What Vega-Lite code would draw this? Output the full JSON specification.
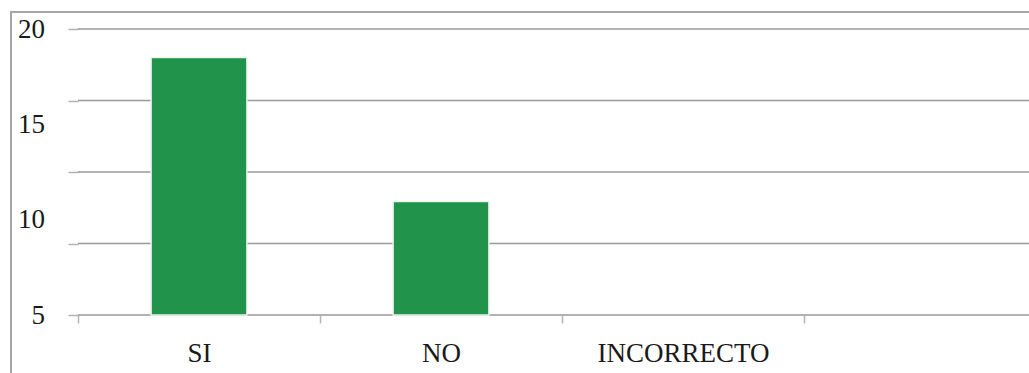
{
  "$schema": "https://vega.github.io/schema/vega-lite/v6.json",
  "width": 1020,
  "height": 363,
  "autosize": {"type": "none"},
  "padding": {"left": 11, "top": 12, "right": 0, "bottom": 0},
  "background": "white",
  "config": {"view": {"stroke": "#a6a6a6", "strokeWidth": 2}, "font": "Liberation Serif"},
  "layer": [
    {
      "data": {"values": [{"g": 5}, {"g": 8.75}, {"g": 12.5}, {"g": 16.25}, {"g": 20}]},
      "mark": {"type": "rule", "color": "#999999", "strokeWidth": 1.5},
      "encoding": {
        "x": {
          "datum": "SI",
          "type": "nominal",
          "bandPosition": 0,
          "scale": {"domain": ["SI", "NO", "INCORRECTO", " "], "range": [67, 1035], "paddingInner": 0, "paddingOuter": 0},
          "axis": {"title": null, "orient": "bottom", "offset": -60, "domain": false, "ticks": true, "tickSize": 8, "tickColor": "#b3b3b3", "tickWidth": 1.5, "tickBand": "extent", "labelAngle": 0, "labelFont": "Liberation Serif", "labelFontSize": 27, "labelColor": "#1a1a1a", "labelBaseline": "alphabetic", "labelPadding": 38, "grid": false}
        },
        "x2": {"value": "width"},
        "y": {
          "field": "g",
          "type": "quantitative",
          "scale": {"domain": [5, 20], "range": [303, 17], "zero": false, "nice": false},
          "axis": {"orient": "left", "offset": -67, "values": [5, 8.75, 12.5, 16.25, 20], "labels": false, "ticks": true, "tickSize": 10, "tickColor": "#b3b3b3", "tickWidth": 1.5, "domain": false, "grid": false, "title": null}
        }
      }
    },
    {
      "data": {"values": [{"cat": "SI", "v": 18.5}, {"cat": "NO", "v": 10.95}]},
      "mark": {"type": "bar", "color": "#21934a", "stroke": "#eef4ee", "strokeWidth": 1.5, "width": {"band": 0.396}},
      "encoding": {
        "x": {
          "field": "cat",
          "type": "nominal",
          "sort": null
        },
        "y": {
          "field": "v",
          "type": "quantitative",
          "axis": {"orient": "left", "offset": -67, "values": [5, 10, 15, 20], "ticks": false, "tickSize": 0, "domain": false, "grid": false, "labelPadding": 33.5, "labelFont": "Liberation Serif", "labelFontSize": 27, "labelColor": "#1a1a1a", "labelAlign": "right", "labelBaseline": "middle", "title": null}
        },
        "y2": {"datum": 5}
      }
    }
  ],
  "resolve": {"axis": {"y": "independent"}}
}
